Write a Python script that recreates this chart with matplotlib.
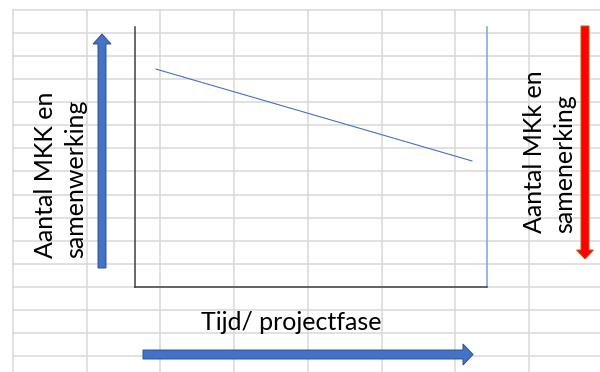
import matplotlib
matplotlib.use("Agg")
import matplotlib.pyplot as plt
from matplotlib.patches import FancyArrow

# Trend of the number of MKK / cooperation over the project phases
phase = [0.6, 9.57]
level = [8.38, 4.85]

y_label = "Aantal MKK en\nsamenwerking"
y_label_right = "Aantal MKk en\nsamenerking"
x_label = "Tijd/ projectfase"

plt.rcParams['font.family'] = ['Lato', 'DejaVu Sans']

W, H = 600, 372
fig = plt.figure(figsize=(W / 100, H / 100), dpi=100)
fig.patch.set_facecolor('white')

# Background sheet with cell grid, in pixel units
bg = fig.add_axes([0, 0, 1, 1])
bg.set_xlim(0, W)
bg.set_ylim(H, 0)
bg.axis('off')

grid_color = '#D9D9D9'
col_w, row_h = 73.7, 23.07
x0, y0 = 13, 10
for k in range(8):
    bg.plot([x0 + k * col_w] * 2, [y0, H], color=grid_color, lw=1.1, zorder=1)
for k in range(16):
    bg.plot([x0, W], [y0 + k * row_h] * 2, color=grid_color, lw=1.1, zorder=1)

# Chart area
ax = fig.add_axes([135 / W, (H - 287) / H, 352 / W, 260 / H])
ax.patch.set_alpha(0)
ax.set_xlim(0, 10)
ax.set_ylim(0, 10)
ax.set_xticks([])
ax.set_yticks([])
ax.spines['top'].set_visible(False)
ax.spines['left'].set_color('#404040')
ax.spines['bottom'].set_color('#404040')
ax.spines['left'].set_linewidth(1.1)
ax.spines['bottom'].set_linewidth(1.1)
ax.spines['right'].set_color('#7F9FDB')
ax.spines['right'].set_linewidth(1.1)
ax.plot(phase, level, color='#4472C4', lw=0.8)

# Arrows
blue, blue_edge = '#4472C4', '#2F528F'
bg.add_patch(FancyArrow(102, 268, 0, -234, width=8, head_width=18,
                        head_length=10, length_includes_head=True,
                        fc=blue, ec=blue_edge, lw=0.7, zorder=3))
bg.add_patch(FancyArrow(143, 354.5, 330, 0, width=9, head_width=21,
                        head_length=10, length_includes_head=True,
                        fc=blue, ec=blue_edge, lw=0.7, zorder=3))
bg.add_patch(FancyArrow(585, 26, 0, 233, width=8, head_width=17,
                        head_length=9, length_includes_head=True,
                        fc='#FF0000', ec='#C55A11', lw=0.7, zorder=3))

# Labels
bg.text(61, 258, y_label, rotation=90, ha='center', va='bottom',
        multialignment='left', fontsize=18, linespacing=1.38, zorder=4)
bg.text(550, 233, y_label_right, rotation=90, ha='center', va='bottom',
        multialignment='left', fontsize=18, linespacing=1.38, zorder=4)
bg.text(291, 330, x_label, ha='center', va='baseline', fontsize=18, zorder=4)

fig.savefig('out.png', dpi=100)
